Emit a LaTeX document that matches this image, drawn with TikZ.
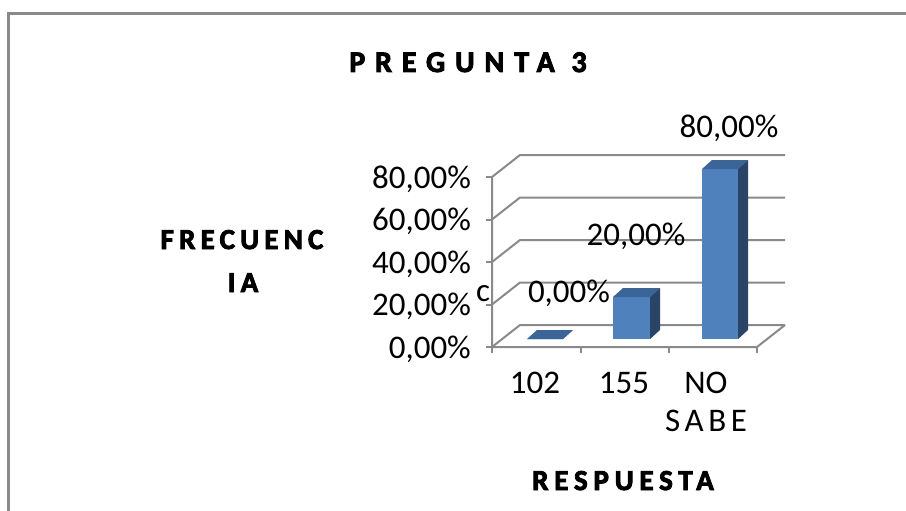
\documentclass[tikz,border=0pt]{standalone}
\usepackage{fontspec}
\setmainfont{Carlito}
\newfontfamily\titlefont[LetterSpace=33,FakeBold=3]{Carlito Bold}
\newfontfamily\axisfont[LetterSpace=18,FakeBold=3]{Carlito Bold}
\newfontfamily\respfont[LetterSpace=20,FakeBold=3]{Carlito Bold}
\newfontfamily\catfont[LetterSpace=14]{Carlito}
\usetikzlibrary{positioning}
\definecolor{gridgray}{HTML}{8A8A8A}
\definecolor{barfront}{HTML}{4F81BD}
\definecolor{bartop}{HTML}{3C6597}
\definecolor{barside}{HTML}{2A4468}
% one 3d column: left x, width, top y
\newcommand{\drawcol}[3]{%
  \fill[barfront] (#1,339) rectangle (#1+#2,#3);
  \fill[bartop] (#1,#3) -- (#1+#2,#3) -- (#1+#2+10,#3-9) -- (#1+10,#3-9) -- cycle;
  \fill[barside] (#1+#2,#3) -- (#1+#2+10,#3-9) -- (#1+#2+10,330) -- (#1+#2,339) -- cycle;}

\begin{document}
\begin{tikzpicture}[x=1pt, y=-1pt, font=\fontsize{33}{38}\selectfont,
  lbl/.style={inner sep=0pt, anchor=base},
  tick/.style={inner sep=0pt, anchor=base east},
  heading/.style={inner sep=0pt, anchor=base, font=\titlefont\fontsize{30}{35}\selectfont},
  axisttl/.style={inner sep=0pt, anchor=base, font=\axisfont\fontsize{29}{34}\selectfont},
  grid/.style={gridgray, line width=2pt}]
\useasboundingbox (0,0) rectangle (906,511);
\fill[white] (0,0) rectangle (906,511);
\draw[gridgray, line width=2.5pt] (8.5,520) -- (8.5,13.5) -- (920,13.5);

% walls and floor
\foreach \v in {0,...,4}
  \draw[grid] (492,347-42.5*\v) -- (520,325-42.5*\v) -- (785,325-42.5*\v);
\draw[grid] (492,177) -- (492,347) -- (757,347) -- (785,325);
\foreach \v in {0,...,4}
  \draw[grid] (486,347-42.5*\v) -- (492,347-42.5*\v);
\foreach \x in {492,580.5,669,757}
  \draw[grid] (\x,347) -- (\x,353);

% columns
\drawcol{527}{36}{339}
\drawcol{613}{37}{297}
\drawcol{702}{36}{169}

% value axis
\node[tick] (y80) at (471,188) {80,00\%};
\node[tick] (y60) at (471,230) {60,00\%};
\node[tick] (y40) at (471,273) {40,00\%};
\node[tick] (y20) at (471,315) {20,00\%};
\node[tick] (y0) at (471,358) {0,00\%};

% data labels
\node[lbl] (stray) at (483,301) {c};
\node[lbl] (v102) at (569,302) {0,00\%};
\node[lbl] (v155) at (636,245) {20,00\%};
\node[lbl] (vns) at (729,138) {80,00\%};

% categories
\node[lbl] (c102) at (535,393) {102};
\node[lbl] (c155) at (624,393) {155};
\node[lbl] (cno) at (706,393) {NO};
\node[lbl, font=\catfont\fontsize{33}{38}\selectfont] (csabe) at (706,431) {SABE};

% titles
\node[heading] (title) at (468,72) {PREGUNTA 3};
\node[axisttl] (freq1) at (242,249) {FRECUENC};
\node[axisttl] (freq2) at (243,292) {IA};
\node[axisttl, font=\respfont\fontsize{29}{34}\selectfont] (resp) at (623,490) {RESPUESTA};
\end{tikzpicture}
\end{document}
